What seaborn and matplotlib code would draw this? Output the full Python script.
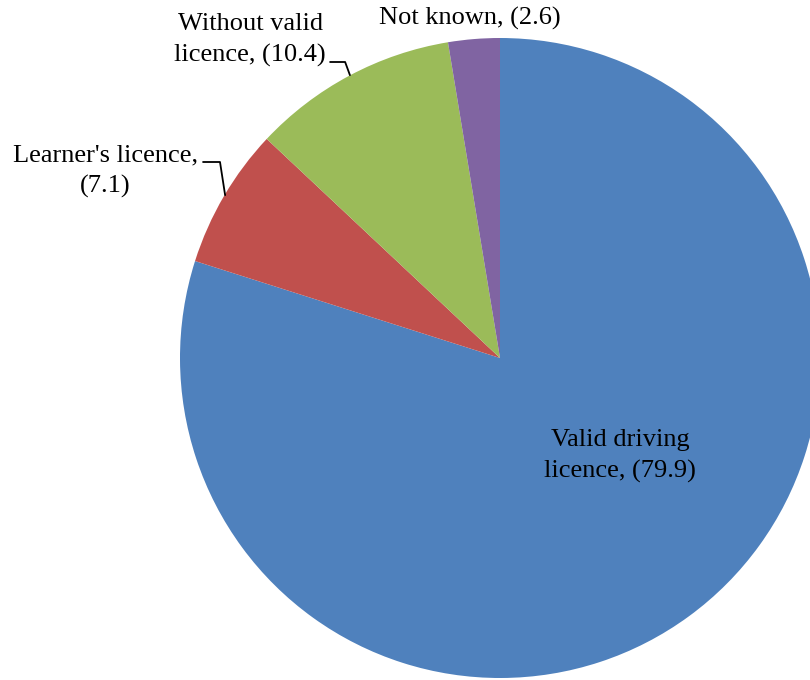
import seaborn as sns
import matplotlib.pyplot as plt

# Share of drivers by licence status (percent)
categories = ["Valid driving\nlicence, (79.9)", "Learner's licence,\n(7.1)",
              "Without valid\nlicence, (10.4)", "Not known, (2.6)"]
shares = [79.9, 7.1, 10.4, 2.6]
colors = ["#4F81BD", "#C0504D", "#9BBB59", "#8064A2"]

sns.set_style("white")
plt.rcParams['font.family'] = ['Liberation Serif', 'DejaVu Serif']
plt.rcParams['text.color'] = 'black'

fig = plt.figure(figsize=(8.1, 6.8), dpi=100)
ax = fig.add_axes([180 / 810, 2 / 680, 640 / 810, 640 / 680])

wedges, _ = ax.pie(shares, colors=colors, startangle=90, counterclock=False,
                   radius=1.0, wedgeprops=dict(linewidth=0))
for w in wedges:
    w.set_clip_on(False)

ax.set_xlim(-1, 1)
ax.set_ylim(-1, 1)
ax.set_aspect('equal')
ax.axis('off')

fs = 19
ls = 1.5
# label positions (data coords) and leader lines
ax.text(0.375, -0.306, categories[0], ha='center', va='center', fontsize=fs,
        linespacing=ls)
ax.text(-1.234, 0.584, categories[1], ha='center', va='center', fontsize=fs,
        linespacing=ls, clip_on=False)
ax.text(-0.781, 0.994, categories[2], ha='center', va='center', fontsize=fs,
        linespacing=ls, clip_on=False)
ax.text(-0.094, 1.0625, categories[3], ha='center', va='center', fontsize=fs,
        clip_on=False)

ax.plot([-0.928, -0.875, -0.859], [0.6125, 0.6125, 0.509], color='black',
        lw=1.3, clip_on=False)
ax.plot([-0.531, -0.484, -0.469], [0.925, 0.925, 0.884], color='black',
        lw=1.3, clip_on=False)

fig.savefig("out.png", dpi=100, facecolor='white')
